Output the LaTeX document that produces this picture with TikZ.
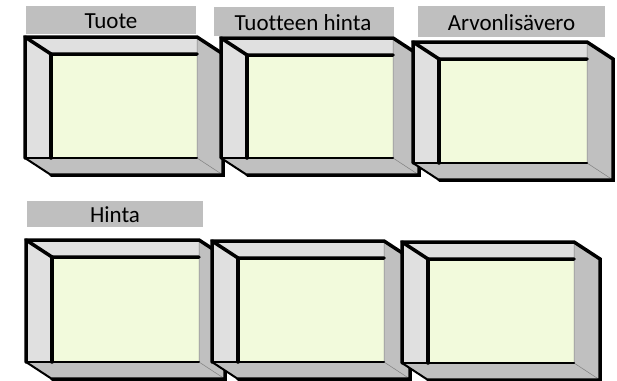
\documentclass[tikz,border=0pt]{standalone}
\usepackage{fontspec}
\setmainfont{Carlito}[Ligatures=NoCommon]
\definecolor{lightpanel}{HTML}{E0E0E0}
\definecolor{darkpanel}{HTML}{C0C0C0}
\definecolor{screenfill}{HTML}{F2FADC}
\definecolor{labgray}{HTML}{BFBFBF}
\tikzset{
  thickedge/.style={line width=3.5pt, line cap=round, line join=miter},
  medge/.style={line width=2pt, line cap=round},
  thinedge/.style={line width=0.5pt, draw=gray},
  labelbg/.style={fill=labgray},
  labeltext/.style={anchor=base, inner sep=0pt, font=\fontsize{23}{27}\selectfont},
}
\newcommand\drawtray[4]{%
  \fill[lightpanel] (#1,#2) -- (#3,#2) -- (#3,#2+17) -- (#1+26,#2+17) -- (#1+26,#4) -- (#1,#4) -- cycle;
  \fill[darkpanel] (#3,#2) -- (#3+26,#2+17) -- (#3+26,#4+17) -- (#1+26,#4+17) -- (#1,#4) -- (#3,#4) -- cycle;
  \fill[screenfill] (#1+26,#2+17) rectangle (#3,#4);
  \draw[thinedge] (#3,#2) -- (#3,#4) -- (#3+26,#4+17);
  \draw[medge] (#1,#4) -- (#3,#4);
  \draw[medge] (#1,#4) -- (#1+26,#4+17);
  \draw[thickedge] (#1,#4) -- (#1,#2) -- (#3,#2) -- (#3+26,#2+17) -- (#3+26,#4+17) -- (#1+26,#4+17);
  \draw[thickedge] (#1,#2) -- (#1+26,#2+17) -- (#3,#2+17);
  \draw[thickedge] (#1+26,#2+17) -- (#1+26,#4);
}
\begin{document}
\begin{tikzpicture}[x=1pt,y=-1pt]
  \useasboundingbox[fill=white] (0,0) rectangle (617,380);
  % top row
  \drawtray{25}{37}{197}{158}
  \drawtray{221}{38}{393}{158}
  \drawtray{413}{42}{587}{163}
  % bottom row
  \drawtray{26}{240}{199}{362}
  \drawtray{212}{241}{384}{362}
  \drawtray{402}{242}{574}{363}
  % label backgrounds
  \fill[labelbg] (26,6) rectangle (196,34);
  \fill[labelbg] (214,7) rectangle (394,36);
  \fill[labelbg] (418,6) rectangle (605,37);
  \fill[labelbg] (27,201) rectangle (203,227);
  % label texts
  \node[labeltext] (l1) at (111,28) {Tuote};
  \node[labeltext] (l2) at (303,30) {Tuotteen hinta};
  \node[labeltext] (l3) at (511.5,30) {Arvonlisävero};
  \node[labeltext] (l4) at (115,222) {Hinta};
\end{tikzpicture}
\end{document}
